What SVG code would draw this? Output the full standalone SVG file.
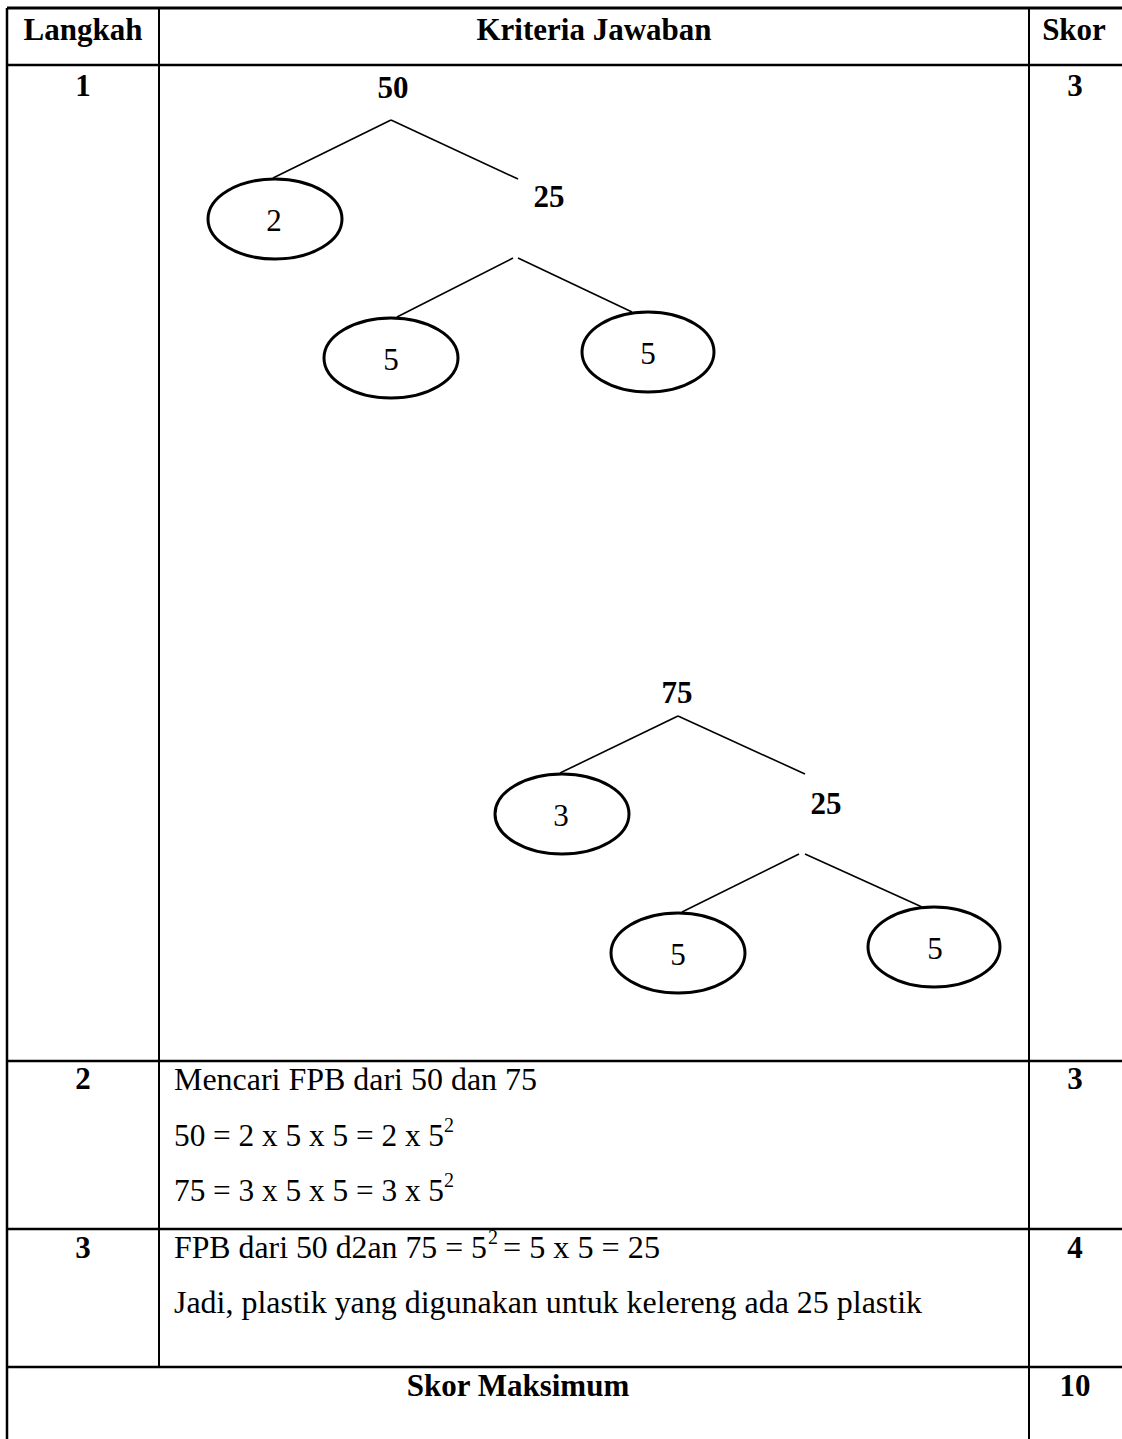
<svg xmlns="http://www.w3.org/2000/svg" width="1122" height="1439" viewBox="0 0 1122 1439">
<style>
text{font-family:"Liberation Serif","Times New Roman",serif;font-size:31px;fill:#000}
.b{font-weight:bold}
.m{text-anchor:middle}
.sup{font-size:20px}
.grid line{stroke:#000;stroke-width:2.5}
.conn line{stroke:#000;stroke-width:1.6}
ellipse{fill:none;stroke:#000;stroke-width:3}
</style>
<rect x="0" y="0" width="1122" height="1439" fill="#fff"/>
<g id="table" class="grid">
<line x1="7" y1="8" x2="1122" y2="8" style="stroke-width:3"/>
<line x1="7" y1="65" x2="1122" y2="65"/>
<line x1="7" y1="1061" x2="1122" y2="1061"/>
<line x1="7" y1="1229" x2="1122" y2="1229"/>
<line x1="7" y1="1367" x2="1122" y2="1367"/>
<line x1="7" y1="8" x2="7" y2="1439"/>
<line x1="159" y1="8" x2="159" y2="1367" style="stroke-width:2"/>
<line x1="1029" y1="8" x2="1029" y2="1439" style="stroke-width:2"/>
</g>
<g id="header">
<text class="b m" x="83" y="40">Langkah</text>
<text class="b m" x="594" y="40">Kriteria Jawaban</text>
<text class="b m" x="1074" y="40">Skor</text>
</g>
<g id="row1">
<text class="b m" x="83" y="96">1</text>
<text class="b m" x="1075" y="96">3</text>
</g>
<g id="connectors" class="conn">
<line x1="391" y1="120" x2="273" y2="178"/>
<line x1="391" y1="120" x2="518" y2="179"/>
<line x1="513" y1="258" x2="397" y2="317"/>
<line x1="518" y1="258" x2="632" y2="312"/>
<line x1="678" y1="716" x2="560" y2="773"/>
<line x1="678" y1="716" x2="805" y2="774"/>
<line x1="799" y1="854" x2="682" y2="912"/>
<line x1="805" y1="854" x2="922" y2="907"/>
</g>
<g id="n50"><text class="b m" x="393" y="98">50</text></g>
<g id="n25a"><text class="b m" x="549" y="207">25</text></g>
<g id="n2"><ellipse cx="275" cy="219" rx="67" ry="40"/><text class="m" x="274" y="231">2</text></g>
<g id="n5a"><ellipse cx="391" cy="358" rx="67" ry="40"/><text class="m" x="391" y="370">5</text></g>
<g id="n5b"><ellipse cx="648" cy="352" rx="66" ry="40"/><text class="m" x="648" y="364">5</text></g>
<g id="n75"><text class="b m" x="677" y="703">75</text></g>
<g id="n25b"><text class="b m" x="826" y="814">25</text></g>
<g id="n3"><ellipse cx="562" cy="814" rx="67" ry="40"/><text class="m" x="561" y="826">3</text></g>
<g id="n5c"><ellipse cx="678" cy="953" rx="67" ry="40"/><text class="m" x="678" y="965">5</text></g>
<g id="n5d"><ellipse cx="934" cy="947" rx="66" ry="40"/><text class="m" x="935" y="959">5</text></g>
<g id="row2">
<text class="b m" x="83" y="1089">2</text>
<text class="b m" x="1075" y="1089">3</text>
<text x="174" y="1090" textLength="363" lengthAdjust="spacingAndGlyphs">Mencari FPB dari 50 dan 75</text>
<text x="174" y="1146" textLength="270" lengthAdjust="spacingAndGlyphs">50 = 2 x 5 x 5 = 2 x 5</text>
<text class="sup" x="444" y="1132">2</text>
<text x="174" y="1201" textLength="270" lengthAdjust="spacingAndGlyphs">75 = 3 x 5 x 5 = 3 x 5</text>
<text class="sup" x="444" y="1187">2</text>
</g>
<g id="row3">
<text class="b m" x="83" y="1258">3</text>
<text class="b m" x="1075" y="1258">4</text>
<text x="174" y="1258" textLength="313" lengthAdjust="spacingAndGlyphs">FPB dari 50 d2an 75 = 5</text>
<text class="sup" x="488" y="1244">2</text>
<text x="503" y="1258" textLength="157" lengthAdjust="spacingAndGlyphs">= 5 x 5 = 25</text>
<text x="174" y="1313" textLength="748" lengthAdjust="spacingAndGlyphs">Jadi, plastik yang digunakan untuk kelereng ada 25 plastik</text>
</g>
<g id="row4">
<text class="b m" x="518" y="1396">Skor Maksimum</text>
<text class="b m" x="1075" y="1396">10</text>
</g>
</svg>
